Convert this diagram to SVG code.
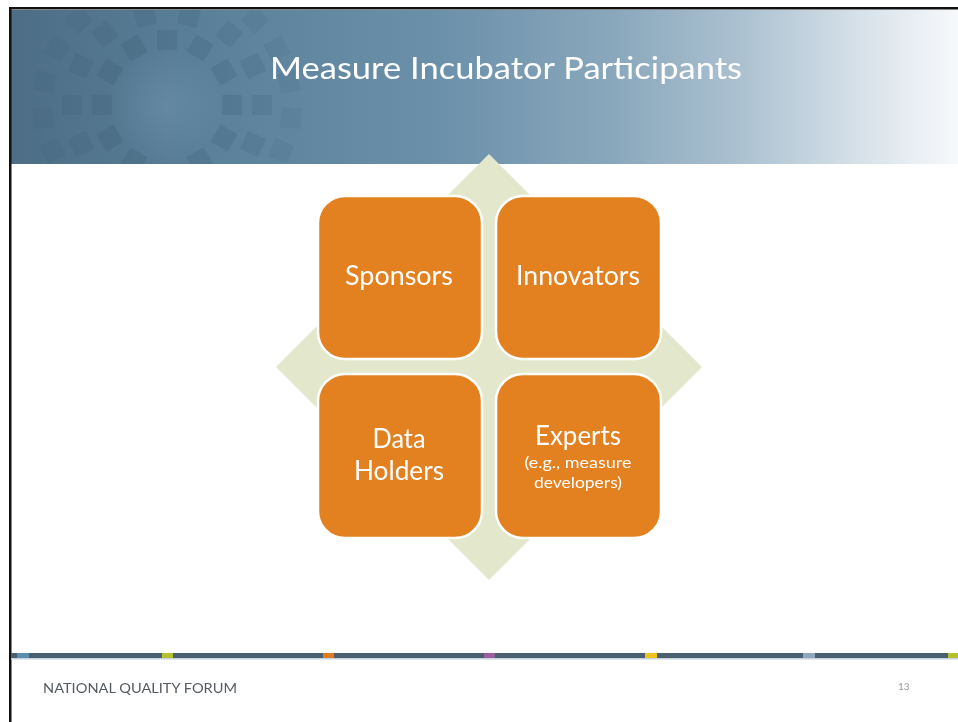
<svg xmlns="http://www.w3.org/2000/svg" width="958" height="722" viewBox="0 0 958 722">
  <defs>
    <linearGradient id="hdr" x1="0" y1="0" x2="1" y2="0">
      <stop offset="0" stop-color="#4d6d86"/>
      <stop offset="0.22" stop-color="#5b819b"/>
      <stop offset="0.45" stop-color="#6b90aa"/>
      <stop offset="0.64" stop-color="#8aa8bc"/>
      <stop offset="0.78" stop-color="#aec3d2"/>
      <stop offset="0.9" stop-color="#d8e2ea"/>
      <stop offset="1" stop-color="#f7f9fb"/>
    </linearGradient>
    <radialGradient id="disc" cx="0.5" cy="0.5" r="0.5">
      <stop offset="0" stop-color="#7397b0" stop-opacity="0.45"/>
      <stop offset="1" stop-color="#7397b0" stop-opacity="0"/>
    </radialGradient>
    <clipPath id="hclip"><rect x="11" y="10" width="947" height="154"/></clipPath>
    <rect id="sq" x="-10" y="-10" width="20" height="20" rx="1"/>
  </defs>
  <style>
    .box { fill: #e3801f; stroke: #ffffff; stroke-width: 2.5; }
    .lbl { font-family: Lato, "Liberation Sans", sans-serif; fill: #ffffff; text-anchor: middle; }
    .big { font-size: 26px; }
    .small { font-size: 16px; }
    .foot { font-family: Lato, "Liberation Sans", sans-serif; fill: #555b61; }
  </style>

  <rect x="0" y="0" width="958" height="722" fill="#ffffff"/>

  <!-- header band -->
  <g id="header">
    <rect x="11" y="10" width="947" height="154" fill="url(#hdr)"/>
    <g clip-path="url(#hclip)" fill="#2f5068">
      <circle cx="167" cy="105" r="60" fill="url(#disc)"/>
      <g opacity="0.16">
        <use href="#sq" transform="translate(167,40) rotate(0)"/>
        <use href="#sq" transform="translate(200,48) rotate(30)"/>
        <use href="#sq" transform="translate(224,72) rotate(60)"/>
        <use href="#sq" transform="translate(232,105) rotate(90)"/>
        <use href="#sq" transform="translate(224,138) rotate(120)"/>
        <use href="#sq" transform="translate(200,161) rotate(150)"/>
        <use href="#sq" transform="translate(134,48) rotate(-30)"/>
        <use href="#sq" transform="translate(110,72) rotate(-60)"/>
        <use href="#sq" transform="translate(102,105) rotate(-90)"/>
        <use href="#sq" transform="translate(110,138) rotate(-120)"/>
        <use href="#sq" transform="translate(134,161) rotate(-150)"/>
      </g>
      <g opacity="0.13">
        <use href="#sq" transform="translate(145,16) rotate(-15)"/>
        <use href="#sq" transform="translate(189,16) rotate(15)"/>
        <use href="#sq" transform="translate(229,34) rotate(40)"/>
        <use href="#sq" transform="translate(253,66) rotate(65)"/>
        <use href="#sq" transform="translate(262,105) rotate(90)"/>
        <use href="#sq" transform="translate(253,144) rotate(115)"/>
        <use href="#sq" transform="translate(105,34) rotate(-40)"/>
        <use href="#sq" transform="translate(81,66) rotate(-65)"/>
        <use href="#sq" transform="translate(72,105) rotate(-90)"/>
        <use href="#sq" transform="translate(81,144) rotate(-115)"/>
      </g>
      <g opacity="0.09">
        <use href="#sq" transform="translate(255,20) rotate(45)"/>
        <use href="#sq" transform="translate(277,49) rotate(60)"/>
        <use href="#sq" transform="translate(289,82) rotate(80)"/>
        <use href="#sq" transform="translate(291,118) rotate(95)"/>
        <use href="#sq" transform="translate(281,151) rotate(115)"/>
        <use href="#sq" transform="translate(79,20) rotate(-45)"/>
        <use href="#sq" transform="translate(57,49) rotate(-60)"/>
        <use href="#sq" transform="translate(45,82) rotate(-80)"/>
        <use href="#sq" transform="translate(43,118) rotate(-95)"/>
        <use href="#sq" transform="translate(53,151) rotate(-115)"/>
      </g>
    </g>
    <text x="506" y="79" font-family="Lato, 'Liberation Sans', sans-serif" font-size="31" fill="#ffffff" text-anchor="middle" textLength="472" lengthAdjust="spacingAndGlyphs">Measure Incubator Participants</text>
  </g>

  <!-- slide border -->
  <rect x="9" y="7" width="949" height="2.5" fill="#111111"/>
  <rect x="9" y="7" width="2.5" height="715" fill="#111111"/>

  <g id="connectors"></g>

  <!-- background diamond -->
  <g id="diamond">
    <polygon points="489,154 702,367 489,580 276,367" fill="#e3e8cd"/>
  </g>

  <g id="sponsors">
    <rect class="box" x="318" y="196" width="164" height="163" rx="27" ry="27"/>
    <text class="lbl big" x="399" y="285" textLength="108" lengthAdjust="spacingAndGlyphs">Sponsors</text>
  </g>
  <g id="innovators">
    <rect class="box" x="496" y="196" width="165" height="163" rx="27" ry="27"/>
    <text class="lbl big" x="578" y="285" textLength="124" lengthAdjust="spacingAndGlyphs">Innovators</text>
  </g>
  <g id="data-holders">
    <rect class="box" x="318" y="374" width="164" height="164" rx="27" ry="27"/>
    <text class="lbl big" x="399" y="448" textLength="53" lengthAdjust="spacingAndGlyphs">Data</text>
    <text class="lbl big" x="399" y="480" textLength="90" lengthAdjust="spacingAndGlyphs">Holders</text>
  </g>
  <g id="experts">
    <rect class="box" x="496" y="374" width="165" height="164" rx="27" ry="27"/>
    <text class="lbl big" x="578" y="445" textLength="86" lengthAdjust="spacingAndGlyphs">Experts</text>
    <text class="lbl small" x="578" y="468" textLength="107" lengthAdjust="spacingAndGlyphs">(e.g., measure</text>
    <text class="lbl small" x="578" y="488" textLength="88" lengthAdjust="spacingAndGlyphs">developers)</text>
  </g>

  <!-- footer bar -->
  <g id="footer">
    <rect x="11" y="653" width="947" height="5" fill="#4a5f70"/>
    <rect x="11" y="658" width="947" height="1.5" fill="#c9d3dc"/>
    <rect x="17" y="653" width="12" height="5" fill="#5b8db0"/>
    <rect x="162" y="653" width="11" height="5" fill="#b4c12e"/>
    <rect x="323" y="653" width="11" height="5" fill="#e07b20"/>
    <rect x="484" y="653" width="11" height="5" fill="#9b5fa0"/>
    <rect x="645" y="653" width="12" height="5" fill="#f1c11c"/>
    <rect x="803" y="653" width="12" height="5" fill="#8fa8c0"/>
    <rect x="948" y="653" width="10" height="5" fill="#b4c12e"/>
    <text class="foot" x="43" y="693" font-size="13.5" textLength="194" lengthAdjust="spacingAndGlyphs">NATIONAL QUALITY FORUM</text>
    <text class="foot" x="898" y="690" font-size="10" style="fill:#9a9a9a">13</text>
  </g>
</svg>
